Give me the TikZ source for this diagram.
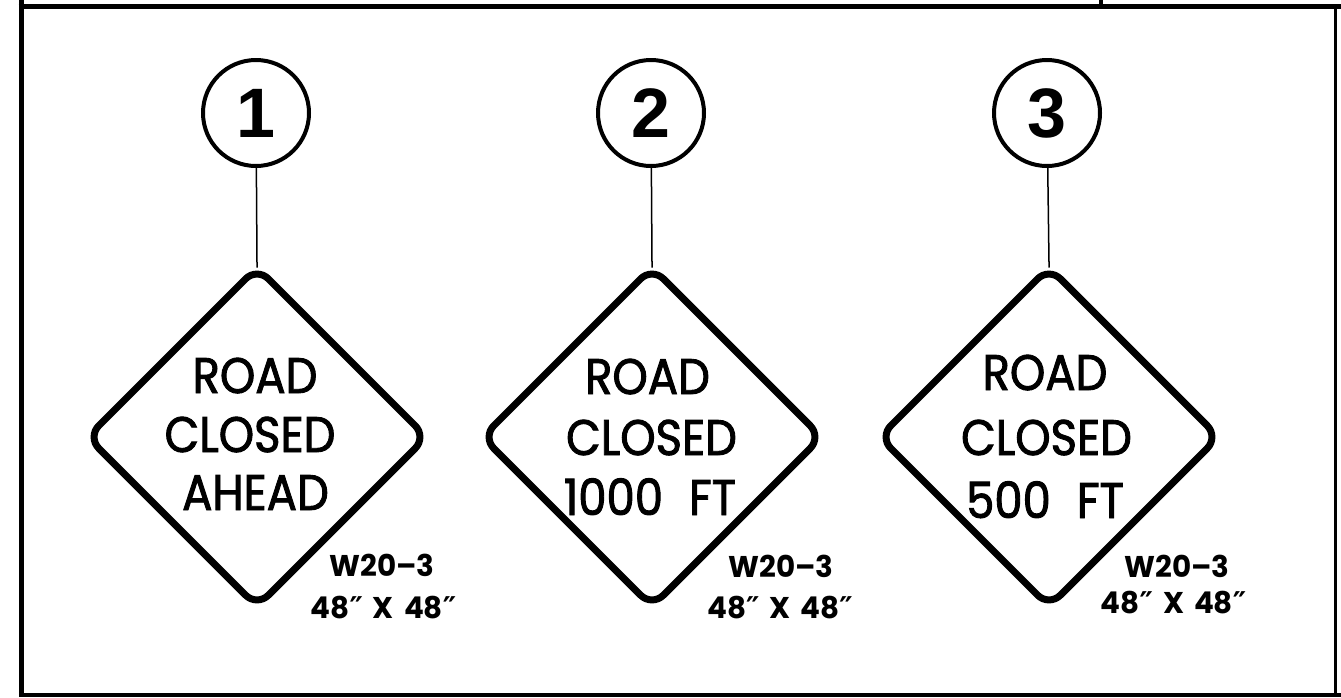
\documentclass[tikz,border=0pt]{standalone}
\usepackage{fontspec}
\usetikzlibrary{shapes.geometric}
\setmainfont{Poppins}
\newfontfamily\numfont{Liberation Sans}
\newfontfamily\signfont{Poppins}[FakeStretch=0.9,FakeBold=1.8]
\newfontfamily\labfont{Poppins}[FakeStretch=0.98]
\newfontfamily\primefont{DejaVu Sans}
\newcommand\dprm{{\primefont\bfseries ″}}
\begin{document}
\begin{tikzpicture}[x=1pt,y=-1pt,
  frameline/.style={line width=5pt},
  numcirc/.style={circle, draw, line width=4pt, minimum size=106pt, inner sep=0pt, font=\numfont\bfseries\fontsize{70}{70}\selectfont},
  signbox/.style={diamond, draw, line width=7pt, rounded corners=16pt, minimum size=342pt, inner sep=0pt},
  stem/.style={line width=1.5pt, shorten >=-5pt},
  signtxt/.style={font=\signfont\fontsize{50}{50}\selectfont, inner sep=0pt, anchor=base},
  codetxt/.style={font=\labfont\bfseries\fontsize{30}{30}\selectfont, inner sep=0pt, anchor=base}]
\useasboundingbox (0,0) rectangle (1341,697);
% frame
\draw[frameline] (21,0) -- (21,697);
\draw[frameline] (18.5,6) -- (1341,6);
\draw[line width=3pt] (1335,6) -- (1335,697);
\draw[line width=4pt] (21,695) -- (1341,695);
\draw[line width=4pt] (1101,0) -- (1101,6);
% circles
\node[numcirc] (c1) at (256,113) {1};
\node[numcirc] (c2) at (651,113) {2};
\node[numcirc] (c3) at (1047,113) {3};
% signs
\node[signbox] (d1) at (257,437) {};
\node[signbox] (d2) at (652,437) {};
\node[signbox] (d3) at (1049,437) {};
\draw[stem] (c1) -- (d1.north);
\draw[stem] (c2) -- (d2.north);
\draw[stem] (c3) -- (d3.north);
% sign texts
\node[signtxt] (d1a) at (255,393) {ROAD};
\node[signtxt] (d1b) at (250,452) {CLOSED};
\node[signtxt] (d1c) at (255.5,510) {AHEAD};
\node[signtxt] (d2a) at (647.5,394) {ROAD};
\node[signtxt] (d2b) at (651.5,455) {CLOSED};
\node[signtxt] (d2c) at (650,515) {1000\hspace{14pt} FT};
\node[signtxt] (d3a) at (1045,390) {ROAD};
\node[signtxt] (d3b) at (1046.5,455) {CLOSED};
\node[signtxt] (d3c) at (1045,518) {500\hspace{14pt} FT};
% codes
\node[codetxt] (k1a) at (382,576) {W20–3};
\node[codetxt] (k1b) at (383.5,618) {48\dprm\hspace{10pt}X\hspace{10pt}48\dprm};
\node[codetxt] (k2a) at (781,577) {W20–3};
\node[codetxt] (k2b) at (780,618) {48\dprm\hspace{10pt}X\hspace{10pt}48\dprm};
\node[codetxt] (k3a) at (1177,577) {W20–3};
\node[codetxt] (k3b) at (1173.5,613) {48\dprm\hspace{10pt}X\hspace{10pt}48\dprm};
\end{tikzpicture}
\end{document}
